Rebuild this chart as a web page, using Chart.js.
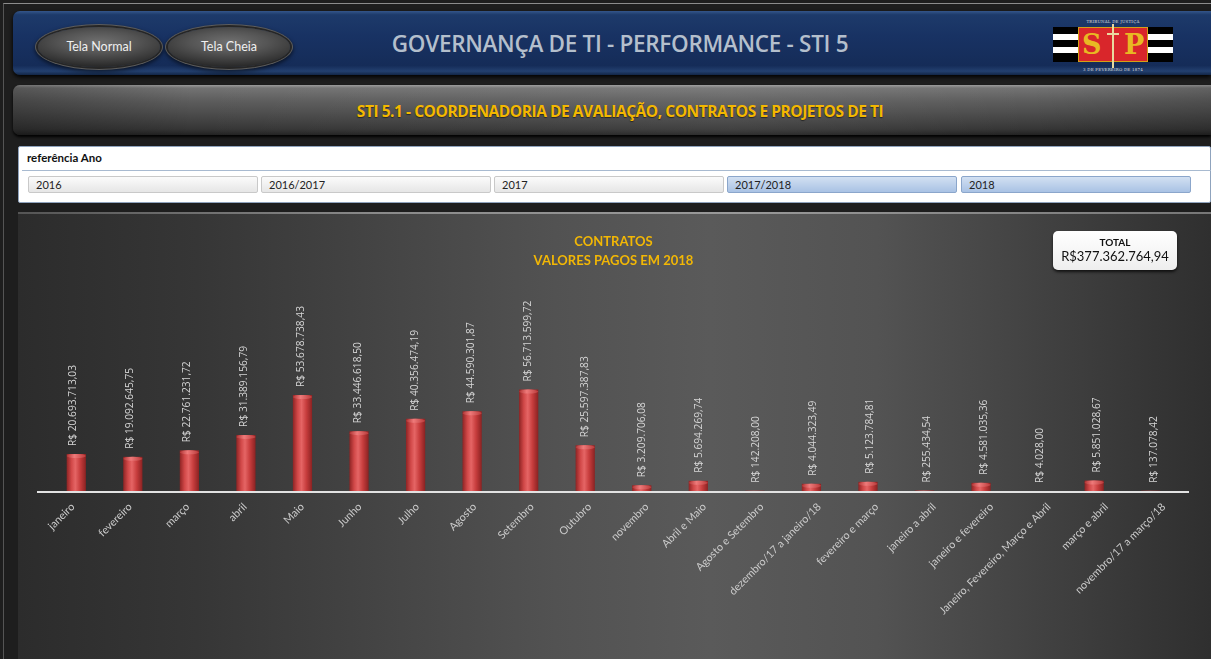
<!DOCTYPE html>
<html><head><meta charset="utf-8">
<script src="https://cdn.jsdelivr.net/npm/chart.js@4.4.1/dist/chart.umd.min.js"></script>
<style>
html,body{margin:0;padding:0;width:1211px;height:659px;overflow:hidden;background:#1e1e1e;font-family:Lato,"Open Sans",sans-serif;}
.abs{position:absolute;}
#frame{left:3px;top:3px;width:1208px;height:656px;border-top:1px solid #8c8c8c;border-left:1px solid #555;}
#header{left:13px;top:11px;width:1198px;height:64px;border-radius:7px 0 0 7px;
 background:linear-gradient(#34568a 0%,#1d3a6a 6%,#183263 40%,#152c58 85%,#23406f 94%,#122646 100%);box-shadow:0 2px 4px #000;}
.btn{top:27px;width:122px;height:40px;border-radius:50%;
 background:radial-gradient(ellipse 70% 60% at 50% 38%,#707070 0%,#555 45%,#3a3a3a 80%,#2a2a2a 100%);
 box-shadow:0 0 0 2px #262626,0 0 0 3px #5c5c5c,0 2px 4px 3px rgba(0,0,0,.6);color:#f0f0f0;font-size:12.5px;text-align:center;line-height:40px;}
#htitle{left:620px;top:28px;transform:translateX(-50%);white-space:nowrap;color:#b4bfcc;font-family:"Open Sans",sans-serif;font-weight:600;font-size:22.5px;letter-spacing:-0.3px;}
#bar2{left:13px;top:85px;width:1198px;height:50px;border-radius:7px 0 0 7px;
 background:linear-gradient(#9a9a9a 0%,#737373 6%,#5e5e5e 30%,#4a4a4a 60%,#363636 88%,#222 100%);box-shadow:0 2px 3px #000;}
#bar2h{left:13px;top:85px;width:1198px;height:50px;border-radius:7px 0 0 7px;
 background:linear-gradient(90deg,rgba(0,0,0,.25) 0%,rgba(0,0,0,0) 15%,rgba(255,255,255,.06) 60%,rgba(0,0,0,0) 85%,rgba(0,0,0,.15) 100%);}
#sub{left:620px;top:100px;transform:translateX(-50%);white-space:nowrap;color:#f4b800;font-family:"Open Sans",sans-serif;font-weight:700;font-size:15.5px;letter-spacing:-0.45px;text-shadow:0 1px 1px rgba(0,0,0,.5);}
#slicer{left:18px;top:146px;width:1193px;height:57px;background:#fff;border:1px solid #8fa3bd;box-sizing:border-box;border-radius:2px;}
#slTitle{left:27px;top:151px;font-size:11.5px;font-weight:700;color:#111;}
#slLine{left:22px;top:170px;width:1189px;height:1px;background:#a8bad0;}
.sb{top:176px;width:230px;height:17px;box-sizing:border-box;border:1px solid #c9c9c9;border-radius:2px;background:linear-gradient(#fbfbfb,#e6e6e6);font-size:11px;line-height:15px;padding-left:7px;color:#222;}
.sb.sel{background:linear-gradient(#d2e0f2,#a9c2e4);border-color:#8ba6cb;}
#panelTop{left:18px;top:212px;width:1193px;height:2px;background:linear-gradient(90deg,#555 0%,#8a8a8a 30%,#999 60%,#777 100%);}
#panel{left:18px;top:214px;width:1193px;height:445px;
 background:linear-gradient(90deg,#2c2c2c 0%,#363636 15%,#444 30%,#525252 45%,#5a5a5a 58%,#535353 72%,#414141 86%,#2f2f2f 100%);}
#total{left:1053px;top:231px;width:124px;height:39px;border-radius:5px;background:linear-gradient(#fff,#eee);box-shadow:0 2px 3px rgba(0,0,0,.7);text-align:center;color:#111;}
#total .t{font-size:10px;font-weight:700;margin-top:5px;line-height:12px;}
#total .v{font-size:13px;line-height:17px;}
#logo{left:1052px;top:18px;width:122px;height:56px;}
.tiny{color:#ddd;font-family:"DejaVu Serif",serif;font-size:4px;text-align:center;width:122px;left:0;letter-spacing:.2px;}
#chartWrap{left:18px;top:213px;width:1193px;height:446px;}
</style></head>
<body>
<div id="frame" class="abs"></div>
<div id="header" class="abs"></div>
<div class="abs btn" style="left:38px">Tela Normal</div>
<div class="abs btn" style="left:168px">Tela Cheia</div>
<div id="htitle" class="abs">GOVERNANÇA DE TI - PERFORMANCE - STI 5</div>
<div id="logo" class="abs">
 <div class="abs tiny" style="top:1px">TRIBUNAL DE JUSTIÇA</div>
 <div class="abs" style="left:1px;top:9px;width:120px;height:35px;background:#000"></div>
 <div class="abs" style="left:1px;top:16px;width:120px;height:6px;background:#fff"></div>
 <div class="abs" style="left:1px;top:29px;width:120px;height:6px;background:#fff"></div>
 <div class="abs" style="left:26px;top:9px;width:70px;height:35px;background:#d9262b;border:1px solid #d4a017;box-sizing:border-box"></div>
 <div class="abs" style="left:30px;top:9px;font-family:'DejaVu Serif',serif;font-weight:700;font-size:27px;color:#e8b923;line-height:35px">S</div>
 <div class="abs" style="left:72px;top:9px;font-family:'DejaVu Serif',serif;font-weight:700;font-size:27px;color:#e8b923;line-height:35px">P</div>
 <div class="abs" style="left:60px;top:6px;width:2px;height:44px;background:#e9d9a0"></div>
 <div class="abs" style="left:55px;top:15px;width:12px;height:2px;background:#e9d9a0"></div>
 <div class="abs tiny" style="top:49px">3 DE FEVEREIRO DE 1874</div>
</div>
<div id="bar2" class="abs"></div>
<div id="bar2h" class="abs"></div>
<div id="sub" class="abs">STI 5.1 - COORDENADORIA DE AVALIAÇÃO, CONTRATOS E PROJETOS DE TI</div>
<div id="slicer" class="abs"></div>
<div id="slTitle" class="abs">referência Ano</div>
<div id="slLine" class="abs"></div>
<div class="abs sb" style="left:28px">2016</div>
<div class="abs sb" style="left:261px">2016/2017</div>
<div class="abs sb" style="left:494px">2017</div>
<div class="abs sb sel" style="left:727px">2017/2018</div>
<div class="abs sb sel" style="left:961px">2018</div>
<div id="panelTop" class="abs"></div>
<div id="panel" class="abs"></div>
<div id="chartWrap" class="abs"><canvas id="c" width="1193" height="446"></canvas></div>
<div id="total" class="abs"><div class="t">TOTAL</div><div class="v" id="totalV"></div></div>
<script>
const categories = ['janeiro','fevereiro','março','abril','Maio','Junho','Julho','Agosto','Setembro','Outubro','novembro','Abril e Maio','Agosto e Setembro','dezembro/17 a janeiro/18','fevereiro e março','janeiro a abril','janeiro e fevereiro','Janeiro, Fevereiro, Março e Abril','março e abril','novembro/17 a março/18'];
const valoresPagos = [20693713.03,19092645.75,22761231.72,31389156.79,53678738.43,33446618.50,40356474.19,44590301.87,56713599.72,25597387.83,3209706.08,5694269.74,142208.00,4044323.49,5123784.81,255434.54,4581035.36,4028.00,5851028.67,137078.42];
const chartTitle = ['CONTRATOS','VALORES PAGOS EM 2018'];

function fmt(v){const p=v.toFixed(2).split('.');return p[0].replace(/\B(?=(\d{3})+(?!\d))/g,'.')+','+p[1];}
document.getElementById('totalV').textContent='R$'+fmt(valoresPagos.reduce((a,b)=>a+b,0));

const BAR_PCT=0.34;
function barFill(c){
  const ch=c.chart, xs=ch.scales.x;
  if(!xs || c.dataIndex===undefined) return '#c23b3b';
  const x=xs.getPixelForValue(c.dataIndex);
  const w=(xs.getPixelForValue(1)-xs.getPixelForValue(0))*BAR_PCT;
  if(!isFinite(x)||!isFinite(w)||w<=0) return '#c23b3b';
  const g=ch.ctx.createLinearGradient(x-w/2,0,x+w/2,0);
  g.addColorStop(0,'#8e2424');g.addColorStop(0.25,'#d14848');g.addColorStop(0.45,'#e56565');
  g.addColorStop(0.7,'#c73d3d');g.addColorStop(1,'#8a2222');
  return g;
}
const barDeco={id:'barDeco',
  beforeDatasetsDraw(ch){
    const ca=ch.chartArea,ctx=ch.ctx;
    ctx.save();ctx.strokeStyle='#e2e2e2';ctx.lineWidth=2;
    ctx.beginPath();ctx.moveTo(ca.left-11,ca.bottom+1);ctx.lineTo(ca.right+10,ca.bottom+1);ctx.stroke();ctx.restore();
    const xs=ch.scales.x;
    ctx.save();
    ctx.font='10.8px Lato';ctx.fillStyle='#cbcbcb';ctx.textAlign='right';ctx.textBaseline='middle';
    categories.forEach((lab,i)=>{
      const x=xs.getPixelForValue(i)-3.5+0.87*i, y=ca.bottom+14;
      ctx.save();ctx.translate(x,y);ctx.rotate(-Math.PI/4);ctx.fillText(lab,0,0);ctx.restore();
    });
    ctx.restore();
  },
  afterDatasetsDraw(ch){
    const ctx=ch.ctx,meta=ch.getDatasetMeta(0);
    meta.data.forEach((el,i)=>{
      const p=el.getProps(['x','y','base','width'],true);
      const h=p.base-p.y;
      if(h>3){
        ctx.save();
        const g=ctx.createLinearGradient(p.x-p.width/2,0,p.x+p.width/2,0);
        g.addColorStop(0,'#b03434');g.addColorStop(0.4,'#ef7a7a');g.addColorStop(1,'#b83a3a');
        ctx.fillStyle=g;ctx.beginPath();ctx.ellipse(p.x,p.y+2,p.width/2,2,0,0,Math.PI*2);ctx.fill();
        ctx.restore();
      }
      ctx.save();
      ctx.translate(p.x-3+0.35*i,p.y-8);ctx.rotate(-Math.PI/2);
      ctx.font='10.2px "Open Sans"';ctx.fillStyle='#d6d6d6';ctx.textAlign='left';ctx.textBaseline='middle';
      ctx.fillText('R$ '+fmt(valoresPagos[i]),0,0);
      ctx.restore();
    });
  }
};
new Chart(document.getElementById('c'),{
  type:'bar',
  data:{labels:categories,datasets:[{data:valoresPagos,backgroundColor:barFill,borderWidth:0,barPercentage:BAR_PCT,categoryPercentage:1}]},
  options:{responsive:false,animation:false,devicePixelRatio:1,
    layout:{padding:{left:30,right:32,top:0,bottom:0}},
    plugins:{legend:{display:false},tooltip:{enabled:false},
      title:{display:true,text:chartTitle,color:'#f2b705',font:{family:'Lato',size:13,weight:'bold',lineHeight:1.462},padding:{top:19,bottom:10}}},
    scales:{
      x:{grid:{display:false},border:{display:false},
         ticks:{display:false},
         afterFit(s){s.height=168;}},
      y:{display:false,min:0,max:118000000}
    }},
  plugins:[barDeco]
});
</script>
</body></html>
